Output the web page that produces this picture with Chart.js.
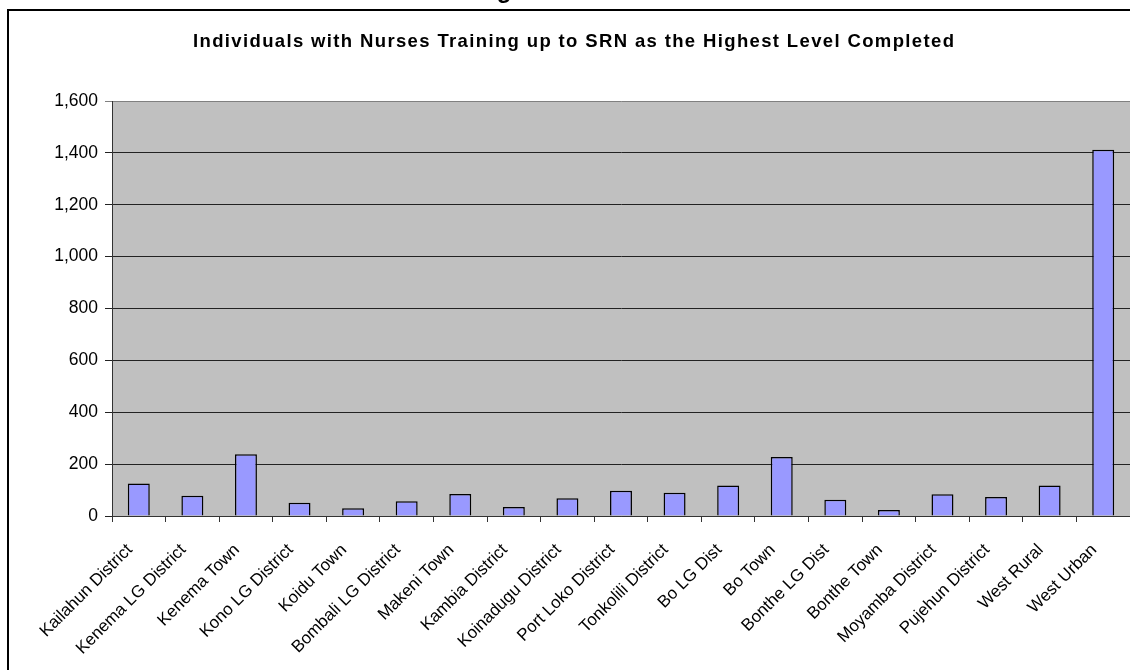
<!DOCTYPE html>
<html>
<head>
<meta charset="utf-8">
<script src="https://cdn.jsdelivr.net/npm/chart.js@4/dist/chart.umd.min.js"></script>
<style>
  html, body { margin: 0; padding: 0; background: #fff; }
  #wrap { width: 1130px; height: 670px; position: relative; }
</style>
</head>
<body>
<div id="wrap"><canvas id="myChart" width="1130" height="670"></canvas></div>
<script>
// Districts / councils along the x axis
const districts = [
  'Kailahun District', 'Kenema LG District', 'Kenema Town', 'Kono LG District',
  'Koidu Town', 'Bombali LG District', 'Makeni Town', 'Kambia District',
  'Koinadugu District', 'Port Loko District', 'Tonkolili District', 'Bo LG Dist',
  'Bo Town', 'Bonthe LG Dist', 'Bonthe Town', 'Moyamba District',
  'Pujehun District', 'West Rural', 'West Urban'
];

// Individuals with SRN as highest level
const srnCounts = [125, 78, 238, 51, 30, 57, 85, 35, 68, 97, 90, 118, 227, 63, 23, 84, 73, 118, 1412];

const yTicks = [0, 200, 400, 600, 800, 1000, 1200, 1400, 1600];

const chartTitle = 'Individuals with Nurses Training up to SRN as the Highest Level Completed';
const cutHeading = 'g';

const FONT = 'Arial, "Liberation Sans", sans-serif';

// grey plot area, outer frame and the clipped heading above it
const frameBg = {
  id: 'frameBg',
  beforeDraw(chart) {
    const { ctx, chartArea: a } = chart;
    ctx.save();
    ctx.fillStyle = '#C0C0C0';
    ctx.fillRect(a.left, a.top, a.right - a.left, a.bottom - a.top);
    ctx.strokeStyle = '#000';
    ctx.lineWidth = 2;
    ctx.beginPath();
    ctx.moveTo(8, 670);
    ctx.lineTo(8, 10);
    ctx.lineTo(1130, 10);
    ctx.stroke();
    ctx.fillStyle = '#000';
    ctx.font = 'bold 24px ' + FONT;
    ctx.textAlign = 'center';
    ctx.textBaseline = 'alphabetic';
    ctx.fillText(cutHeading, 504, -2);
    ctx.restore();
  },
  // Excel-style spaced-out bold title
  afterDraw(chart) {
    const { ctx } = chart;
    ctx.save();
    ctx.fillStyle = '#000';
    ctx.font = 'bold 18.5px ' + FONT;
    ctx.textAlign = 'left';
    ctx.textBaseline = 'alphabetic';
    const w = ctx.measureText(chartTitle).width;
    ctx.letterSpacing = ((762 - w) / chartTitle.length).toFixed(2) + 'px';
    ctx.fillText(chartTitle, 193, 47);
    ctx.restore();
  }
};

new Chart(document.getElementById('myChart').getContext('2d'), {
  type: 'bar',
  data: {
    labels: districts,
    datasets: [{
      data: srnCounts,
      backgroundColor: '#9999FF',
      borderColor: '#000',
      borderWidth: 1.5,
      barPercentage: 0.41,
      categoryPercentage: 1
    }]
  },
  plugins: [frameBg],
  options: {
    responsive: false,
    animation: false,
    layout: { padding: { top: 101, left: 0, right: 0, bottom: 0 } },
    plugins: {
      legend: { display: false },
      tooltip: { enabled: false },
      title: { display: false }
    },
    scales: {
      x: {
        afterFit(scale) { scale.height = 154; scale.paddingRight = 0; scale.paddingLeft = 0; },
        grid: { offset: true, drawOnChartArea: false, drawTicks: true, tickLength: 6, color: '#333' },
        border: { display: true, color: '#333', width: 1 },
        ticks: {
          autoSkip: false, maxRotation: 45, minRotation: 45, padding: 18, labelOffset: -9,
          color: '#000', font: { family: FONT, size: 17 }
        }
      },
      y: {
        min: 0,
        max: 1600,
        afterFit(scale) { scale.width = 112; scale.paddingTop = 0; scale.paddingBottom = 0; },
        afterBuildTicks(scale) { scale.ticks = yTicks.map(v => ({ value: v })); },
        grid: {
          color: ctx => ctx.tick && ctx.tick.value === 1600 ? '#808080' : '#222',
          lineWidth: 1, tickLength: 7, drawTicks: true
        },
        border: { display: true, color: '#333', width: 1 },
        ticks: {
          padding: 7, color: '#000', font: { family: FONT, size: 17.5 },
          callback: v => v.toLocaleString('en-US')
        }
      }
    }
  }
});
</script>
</body>
</html>
